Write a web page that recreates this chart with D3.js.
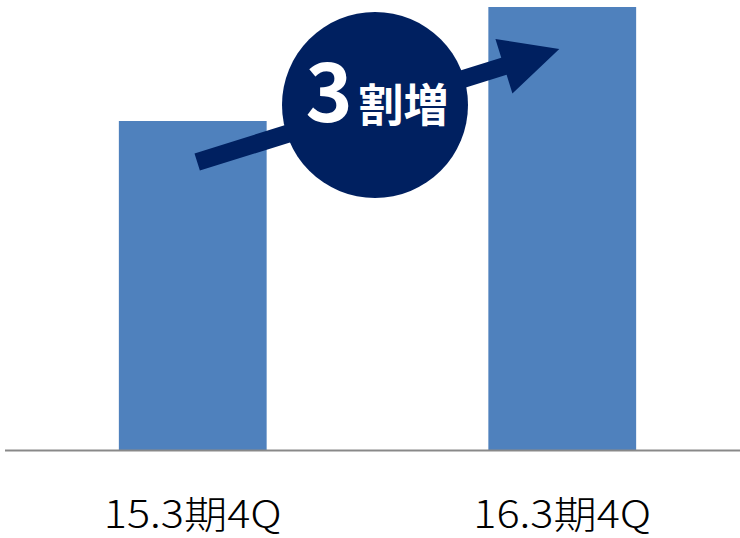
<!DOCTYPE html>
<html><head><meta charset="utf-8">
<script src="https://cdn.jsdelivr.net/npm/d3@7/dist/d3.min.js"></script>
<style>html,body{margin:0;padding:0;background:#fff;}svg{display:block;}</style>
</head><body>
<script>
const categories = ["15.3期4Q", "16.3期4Q"];
const values = [100, 134.6];
const badgeNumber = "3";
const badgeText = "割増";

const W = 740, H = 538;
const svg = d3.select("body").append("svg").attr("width", W).attr("height", H);

const x = d3.scaleBand().domain(categories).range([8, 747]).paddingInner(0.6).paddingOuter(0.3);
const y = d3.scaleLinear().domain([0, d3.max(values)]).range([450.5, 7]);

svg.selectAll("rect.bar").data(categories).join("rect")
  .attr("class", "bar")
  .attr("x", d => x(d)).attr("width", x.bandwidth())
  .attr("y", (d, i) => y(values[i])).attr("height", (d, i) => y(0) - y(values[i]))
  .attr("fill", "#4F81BD");

// baseline axis
const axis = svg.append("g").attr("transform", `translate(0,${y(0)})`)
  .call(d3.axisBottom(x).tickSize(0).tickPadding(0));
axis.select(".domain").remove();
axis.append("line").attr("x1", 5).attr("x2", 740).attr("y1", 0).attr("y2", 0)
  .attr("stroke", "#898989").attr("stroke-width", 2);
axis.selectAll(".tick text")
  .attr("y", 77.5).attr("dy", 0)
  .attr("font-family", "'Noto Sans CJK JP', 'DejaVu Sans', sans-serif")
  .attr("font-weight", 300)
  .attr("font-size", 38).attr("fill", "#000")
  .attr("textLength", 178).attr("lengthAdjust", "spacingAndGlyphs");

// arrow annotation
const navy = "#002060";
const bw = x.bandwidth();
const sx = x(categories[0]) + bw * 0.53, sy = 162;
const tx = x(categories[1]) + bw * 0.48, ty = 49;
const ang = Math.atan2(ty - sy, tx - sx);
const len = Math.hypot(tx - sx, ty - sy);
const headLen = 58, headW = 57, shaftW = 18;
const g = svg.append("g").attr("transform", `translate(${sx},${sy}) rotate(${ang * 180 / Math.PI})`);
g.append("path")
  .attr("d", `M0,${-shaftW/2} L${len-headLen},${-shaftW/2} L${len-headLen},${-headW/2} L${len},0 L${len-headLen},${headW/2} L${len-headLen},${shaftW/2} L0,${shaftW/2} Z`)
  .attr("fill", navy);

// circle badge
const cx = 375, cy = 105, r = 93;
svg.append("circle").attr("cx", cx).attr("cy", cy).attr("r", r).attr("fill", navy);
const t = svg.append("text").attr("x", cx + 2).attr("y", 122).attr("text-anchor", "middle")
  .attr("fill", "#fff").attr("font-family", "'Noto Sans CJK JP', sans-serif").attr("font-weight", "bold");
t.append("tspan").attr("font-size", 80).text(badgeNumber);
t.append("tspan").attr("font-size", 45).attr("dx", 6).text(badgeText);
</script>
</body></html>
